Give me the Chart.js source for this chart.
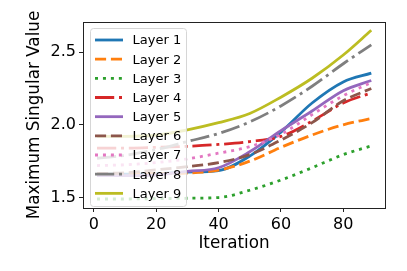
<!DOCTYPE html>
<html>
<head>
<meta charset="utf-8">
<script src="https://cdn.jsdelivr.net/npm/chart.js@4/dist/chart.umd.min.js"></script>
<style>
  html, body { margin: 0; padding: 0; background: #fff; }
  #wrap { width: 407px; height: 271px; }
</style>
</head>
<body>
<div id="wrap"><canvas id="chart"></canvas></div>
<script>
// singular values per layer
const iterations = [1, 10, 20, 30, 40, 50, 60, 70, 80, 89];
const layer1 = [1.66, 1.66, 1.665, 1.675, 1.685, 1.785, 1.95, 2.15, 2.295, 2.355];
const layer2 = [1.665, 1.665, 1.665, 1.668, 1.688, 1.75, 1.845, 1.93, 2.0, 2.043];
const layer3 = [1.49, 1.49, 1.492, 1.495, 1.5, 1.55, 1.62, 1.705, 1.795, 1.855];
const layer4 = [1.84, 1.84, 1.845, 1.852, 1.865, 1.885, 1.92, 2.025, 2.15, 2.22];
const layer5 = [1.65, 1.65, 1.655, 1.68, 1.705, 1.815, 1.96, 2.095, 2.235, 2.305];
const layer6 = [1.665, 1.67, 1.69, 1.713, 1.74, 1.795, 1.895, 2.015, 2.165, 2.25];
const layer7 = [1.72, 1.725, 1.74, 1.766, 1.805, 1.85, 1.935, 2.07, 2.2, 2.29];
const layer8 = [1.77, 1.79, 1.83, 1.885, 1.94, 2.02, 2.13, 2.265, 2.42, 2.55];
const layer9 = [1.92, 1.92, 1.93, 1.966, 2.015, 2.078, 2.19, 2.32, 2.48, 2.65];

const layerNames = ['Layer 1', 'Layer 2', 'Layer 3', 'Layer 4', 'Layer 5', 'Layer 6', 'Layer 7', 'Layer 8', 'Layer 9'];
const xTicks = [0, 20, 40, 60, 80];
const yTicks = [1.5, 2.0, 2.5];

const allLayers = [layer1, layer2, layer3, layer4, layer5, layer6, layer7, layer8, layer9];
const colors = ['#1f77b4', '#ff7f0e', '#2ca02c', '#d62728', '#9467bd', '#8c564b', '#e377c2', '#7f7f7f', '#bcbd22'];
const dashes = [[], [11.1, 4.8], [3, 4.95], [19.2, 4.8, 3, 4.8]];
const LW = 2.8;

const datasets = allLayers.map((vals, i) => ({
  label: layerNames[i],
  data: iterations.map((x, j) => ({ x: x, y: vals[j] })),
  borderColor: colors[i],
  borderWidth: LW,
  borderDash: dashes[i % 4],
  pointRadius: 0,
  fill: false,
  cubicInterpolationMode: 'monotone',
  order: allLayers.length - 1 - i
}));

// matplotlib style legend box inside the axes, drawn over the lines
const boxLegend = {
  id: 'boxLegend',
  afterDatasetsDraw(chart) {
    const ctx = chart.ctx;
    const x0 = 90.5, y0 = 28.5, w = 96, h = 178, r = 3;
    ctx.save();
    ctx.beginPath();
    ctx.moveTo(x0 + r, y0);
    ctx.arcTo(x0 + w, y0, x0 + w, y0 + h, r);
    ctx.arcTo(x0 + w, y0 + h, x0, y0 + h, r);
    ctx.arcTo(x0, y0 + h, x0, y0, r);
    ctx.arcTo(x0, y0, x0 + w, y0, r);
    ctx.closePath();
    ctx.fillStyle = 'rgba(255,255,255,0.8)';
    ctx.fill();
    ctx.strokeStyle = '#d6d6d6';
    ctx.lineWidth = 1;
    ctx.stroke();

    chart.data.datasets.forEach((ds, i) => {
      const y = 40 + i * 19.17;
      ctx.beginPath();
      ctx.setLineDash(ds.borderDash);
      ctx.strokeStyle = ds.borderColor;
      ctx.lineWidth = LW;
      ctx.moveTo(95, y);
      ctx.lineTo(123, y);
      ctx.stroke();
      ctx.setLineDash([]);
      ctx.fillStyle = '#000';
      ctx.font = '13px "DejaVu Sans"';
      ctx.textBaseline = 'middle';
      ctx.fillText(ds.label, 132.5, y + 1);
    });
    ctx.restore();
  },
  afterDraw(chart) {
    const a = chart.chartArea;
    const ctx = chart.ctx;
    ctx.save();
    ctx.strokeStyle = '#222';
    ctx.lineWidth = 1;
    ctx.strokeRect(Math.round(a.left) + 0.5, Math.round(a.top) + 0.5, Math.round(a.right - a.left), Math.round(a.bottom - a.top));
    ctx.restore();
  }
};

new Chart(document.getElementById('chart').getContext('2d'), {
  type: 'line',
  data: { datasets: datasets },
  options: {
    responsive: true,
    maintainAspectRatio: false,
    devicePixelRatio: 1,
    animation: false,
    layout: { padding: { top: 22, right: 22, left: 0, bottom: 0 } },
    plugins: { legend: { display: false }, tooltip: { enabled: false } },
    scales: {
      x: {
        type: 'linear',
        min: -3.5,
        max: 93.4,
        afterBuildTicks: s => { s.ticks = xTicks.map(v => ({ value: v })); },
        afterFit: s => { s.height = 63; },
        grid: { display: true, drawOnChartArea: false, drawTicks: true, tickLength: 4, color: '#222' },
        border: { display: false },
        ticks: { color: '#000', font: { family: 'DejaVu Sans', size: 16 }, padding: 3, maxRotation: 0 },
        title: { display: true, text: 'Iteration', color: '#000', font: { family: 'DejaVu Sans', size: 16.8 }, padding: { top: 0, bottom: 17 } }
      },
      y: {
        type: 'linear',
        min: 1.428,
        max: 2.707,
        afterBuildTicks: s => { s.ticks = yTicks.map(v => ({ value: v })); },
        afterFit: s => { s.width = 83; },
        grid: { display: true, drawOnChartArea: false, drawTicks: true, tickLength: 4, color: '#222' },
        border: { display: false },
        ticks: { color: '#000', font: { family: 'DejaVu Sans', size: 16 }, padding: 3, callback: v => v.toFixed(1) },
        title: { display: true, text: 'Maximum Singular Value', color: '#000', font: { family: 'DejaVu Sans', size: 16.8 }, padding: { top: 25, bottom: 0 } }
      }
    }
  },
  plugins: [boxLegend]
});
</script>
</body>
</html>
